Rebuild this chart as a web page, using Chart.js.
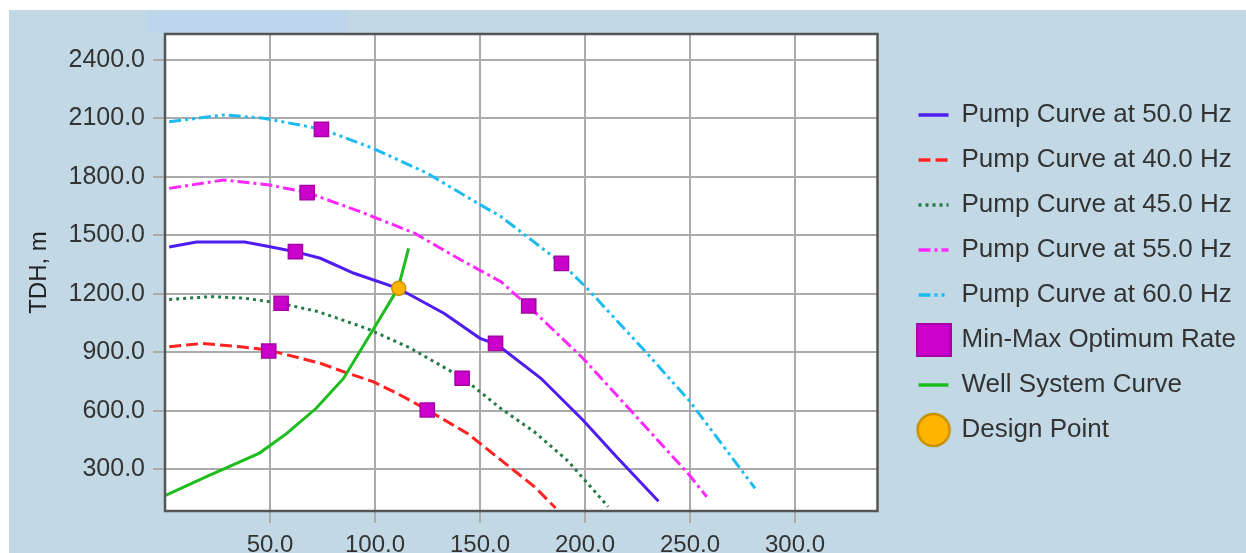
<!DOCTYPE html>
<html>
<head>
<meta charset="utf-8">
<script src="https://cdn.jsdelivr.net/npm/chart.js@4.4.1/dist/chart.umd.min.js"></script>
<style>
  html, body { margin: 0; padding: 0; background: #fff; overflow: hidden; width: 1246px; height: 553px; }
  #panel { position: absolute; left: 9px; top: 10px; width: 1237px; height: 543px; background: #c2d9e5; }
  #tab { position: absolute; left: 147px; top: 10px; width: 201px; height: 23px; background: #bdd6ec; }
  #wrap { position: absolute; left: 9px; top: 10px; width: 1237px; height: 573px; }
</style>
</head>
<body>
<div id="panel"></div>
<div id="tab"></div>
<div id="wrap"><canvas id="pumpChart"></canvas></div>
<script>
// rate (x) and TDH, m (y)
const q50 = [2, 15, 38, 50, 62, 74, 90, 111, 133, 150, 158, 179, 199, 215, 235];
const h50 = [1440, 1465, 1465, 1441, 1416, 1382, 1305, 1228, 1099, 971, 940, 766, 552, 363, 135];

const q40 = [2, 18, 36, 49, 74, 87, 99, 112, 125, 144, 150, 160, 176, 186];
const h40 = [928, 945, 928, 911, 843, 792, 749, 680, 603, 483, 432, 346, 209, 100];

const q45 = [2, 22, 38, 55, 73, 96, 117, 142, 160, 176, 192, 211];
const h45 = [1171, 1185, 1177, 1151, 1108, 1022, 920, 766, 610, 490, 340, 107];

const q55 = [2, 28, 50, 68, 93, 119, 141, 160, 173, 199, 223, 249, 258];
const h55 = [1741, 1784, 1758, 1719, 1621, 1510, 1373, 1262, 1137, 869, 586, 278, 158];

const q60 = [2, 28, 47, 75, 99, 125, 149, 160, 189, 201, 231, 250, 281];
const h60 = [2083, 2118, 2101, 2044, 1947, 1818, 1664, 1596, 1356, 1228, 877, 646, 201];

const qWell = [0, 20, 45, 58, 72, 85, 99, 111, 116];
const hWell = [164, 262, 382, 483, 612, 765, 1014, 1228, 1433];

const optQ = [74.5, 188.8, 67.7, 173.2, 62.1, 157.4, 55.3, 141.5, 49.4, 124.9];
const optH = [2044, 1356, 1719, 1137, 1416, 945, 1151, 766, 906, 603];

const designQ = [111.3];
const designH = [1228];

const xTicks = [50, 100, 150, 200, 250, 300];
const yTicks = [300, 600, 900, 1200, 1500, 1800, 2100, 2400];

const FONT = '"Liberation Sans", Arial, sans-serif';

function pts(qs, hs) {
  return qs.map((q, i) => ({ x: q, y: hs[i] }));
}

function curve(label, qs, hs, color, dash, order) {
  return {
    label, data: pts(qs, hs), showLine: true,
    borderColor: color, backgroundColor: color, borderWidth: 3, borderDash: dash,
    pointRadius: 0, pointHoverRadius: 0, tension: 0, order
  };
}

// legend icons for the marker series
function makeIcon(w, h, draw) {
  const c = document.createElement('canvas');
  c.width = w; c.height = h;
  draw(c.getContext('2d'));
  return c;
}
const squareIcon = makeIcon(36, 34, ctx => {
  ctx.fillStyle = '#cc00cc'; ctx.strokeStyle = '#a400a4'; ctx.lineWidth = 2;
  ctx.fillRect(1, 1, 34, 32); ctx.strokeRect(1, 1, 34, 32);
});
const circleIcon = makeIcon(36, 36, ctx => {
  ctx.fillStyle = '#ffb400'; ctx.strokeStyle = '#c89000'; ctx.lineWidth = 2.5;
  ctx.beginPath(); ctx.arc(18, 18, 16, 0, Math.PI * 2); ctx.fill(); ctx.stroke();
});
const legendIcons = { 5: squareIcon, 7: circleIcon };

const plotFrame = {
  id: 'plotFrame',
  beforeDraw(chart) {
    const { ctx, chartArea: a } = chart;
    ctx.save();
    ctx.fillStyle = '#fff';
    ctx.fillRect(a.left, a.top, a.width, a.height);
    ctx.restore();
  },
  afterDraw(chart) {
    const { ctx, chartArea: a } = chart;
    ctx.save();
    ctx.strokeStyle = '#555';
    ctx.lineWidth = 2.5;
    ctx.strokeRect(a.left, a.top, a.width, a.height);
    ctx.restore();
  }
};

new Chart(document.getElementById('pumpChart'), {
  type: 'scatter',
  data: {
    datasets: [
      curve('Pump Curve at 50.0 Hz', q50, h50, '#4f1cf2', [], 2),
      curve('Pump Curve at 40.0 Hz', q40, h40, '#ff2222', [12, 5], 2),
      curve('Pump Curve at 45.0 Hz', q45, h45, '#237a45', [3, 4], 2),
      curve('Pump Curve at 55.0 Hz', q55, h55, '#ff28ff', [12, 4, 3, 4], 2),
      curve('Pump Curve at 60.0 Hz', q60, h60, '#1cbcf2', [12, 4, 3, 4, 3, 4], 2),
      {
        label: 'Min-Max Optimum Rate', data: pts(optQ, optH), showLine: false,
        pointStyle: 'rect', pointRadius: 10, pointHoverRadius: 10,
        backgroundColor: '#cc00cc', borderColor: '#a400a4', pointBorderWidth: 1.5, order: 0
      },
      curve('Well System Curve', qWell, hWell, '#1ebd1e', [], 1),
      {
        label: 'Design Point', data: pts(designQ, designH), showLine: false,
        pointStyle: 'circle', pointRadius: 7, pointHoverRadius: 7,
        backgroundColor: '#ffb400', borderColor: '#c89000', pointBorderWidth: 1.5, order: 0
      }
    ]
  },
  options: {
    responsive: true,
    maintainAspectRatio: false,
    animation: false,
    layout: { padding: { top: 24, left: 0, right: 0, bottom: 0 } },
    scales: {
      x: {
        type: 'linear', min: 0, max: 339.3,
        afterBuildTicks: s => { s.ticks = xTicks.map(v => ({ value: v })); },
        afterFit: s => { s.height = 72; },
        ticks: { padding: 8, color: '#333', font: { family: FONT, size: 24 }, callback: v => v.toFixed(1) },
        grid: { color: '#a9abad', lineWidth: 2, tickLength: 12, tickColor: '#a9abad' },
        border: { display: false }
      },
      y: {
        min: 84.6, max: 2533.5,
        afterBuildTicks: s => { s.ticks = yTicks.map(v => ({ value: v })); },
        afterFit: s => { s.width = 156; },
        ticks: { padding: 8, color: '#333', font: { family: FONT, size: 25 }, callback: v => v.toFixed(1) },
        grid: { color: '#a9abad', lineWidth: 2, tickLength: 12, tickColor: '#a9abad' },
        border: { display: false },
        title: { display: true, text: 'TDH, m', color: '#222', padding: { top: 16, bottom: 0 }, font: { family: FONT, size: 24 } }
      },
      gap: {
        type: 'linear', position: 'right', display: true,
        afterFit: s => { s.width = 22; },
        ticks: { display: false },
        grid: { display: false, drawTicks: false },
        border: { display: false }
      }
    },
    plugins: {
      tooltip: { enabled: false },
      legend: {
        position: 'right',
        fullSize: false,
        align: 'center',
        maxWidth: 347,
        labels: {
          usePointStyle: true,
          pointStyleWidth: 30,
          padding: 19,
          color: '#333',
          font: { family: FONT, size: 26 },
          generateLabels(chart) {
            return chart.data.datasets.map((ds, i) => ({
              text: ds.label,
              fillStyle: ds.backgroundColor,
              strokeStyle: ds.borderColor,
              lineWidth: legendIcons[i] ? 0 : 3.5,
              lineDash: ds.borderDash || [],
              pointStyle: legendIcons[i] || 'line',
              fontColor: '#333',
              hidden: !chart.isDatasetVisible(i),
              datasetIndex: i
            }));
          }
        }
      }
    }
  },
  plugins: [plotFrame]
});
</script>
</body>
</html>
